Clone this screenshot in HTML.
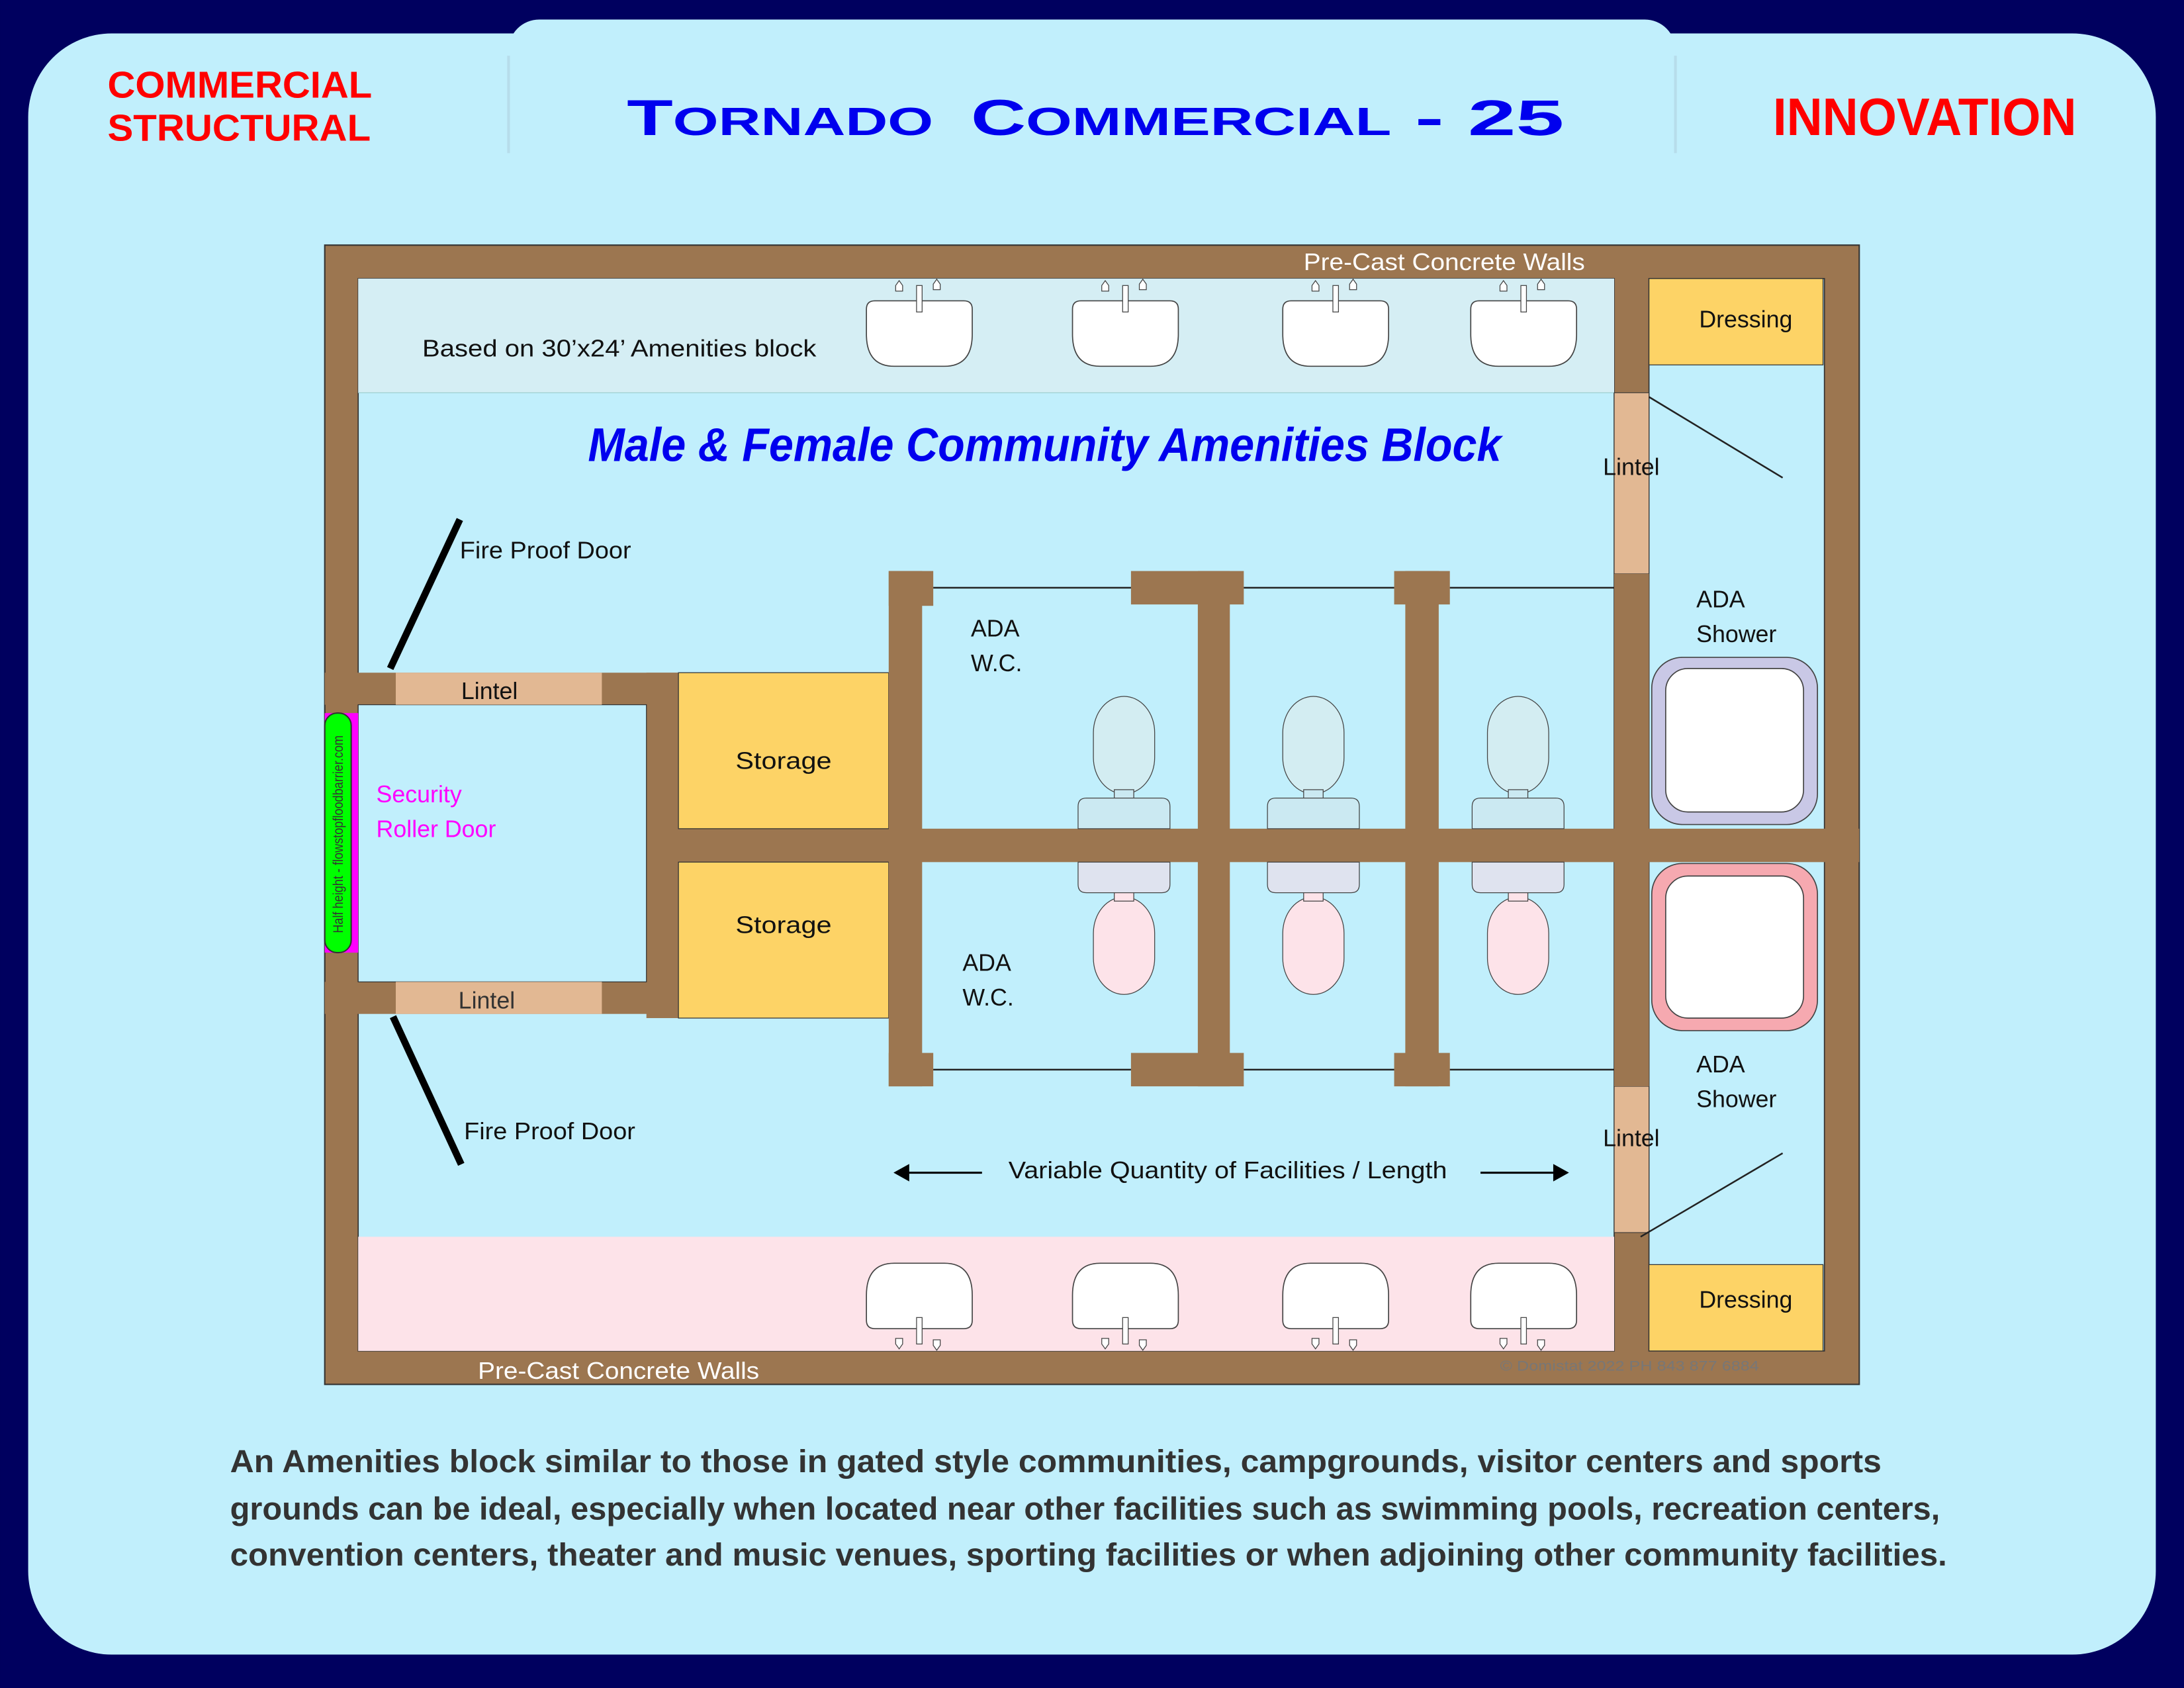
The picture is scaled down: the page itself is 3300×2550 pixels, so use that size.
<!DOCTYPE html>
<html><head><meta charset="utf-8"><style>html,body{margin:0;padding:0;background:#00005f}svg{display:block}</style></head><body>
<svg width="3300" height="2550" viewBox="0 0 1568 1212" xmlns="http://www.w3.org/2000/svg" font-family="'Liberation Sans', 'DejaVu Sans', sans-serif">
<defs>
<g id="sink">
<path d="M-38,222 q0,-6 6,-6 h64 q6,0 6,6 v18 q0,23 -20,23 h-36 q-20,0 -20,-23 z" fill="#fff" stroke="#444" stroke-width="0.8"/>
<rect x="-2" y="205" width="4" height="19" fill="#fff" stroke="#444" stroke-width="0.6"/>
<path d="M-17,209 v-4 l2.5,-3.5 l2.5,3.5 v4 z" fill="#fff" stroke="#444" stroke-width="0.6"/>
<path d="M10,208 v-4 l2.5,-3.5 l2.5,3.5 v4 z" fill="#fff" stroke="#444" stroke-width="0.6"/>
</g>
<g id="toiletU">
<rect x="-22" y="500" width="44" height="70" rx="22" ry="26" fill="#d3edf2" stroke="#444" stroke-width="0.6"/>
<rect x="-7" y="567" width="14" height="7" fill="#cbe9f2" stroke="#444" stroke-width="0.6"/>
<path d="M-33,595 v-16 q0,-6 6,-6 h54 q6,0 6,6 v16 z" fill="#cbe9f2" stroke="#444" stroke-width="0.6"/>
</g>
<g id="toiletL">
<rect x="-22" y="644" width="44" height="70" rx="22" ry="26" fill="#fde3e9" stroke="#444" stroke-width="0.6"/>
<rect x="-7" y="640" width="14" height="7" fill="#fde3e9" stroke="#444" stroke-width="0.6"/>
<path d="M-33,619 v16 q0,6 6,6 h54 q6,0 6,-6 v-16 z" fill="#dfe3ef" stroke="#444" stroke-width="0.6"/>
</g>
</defs>
<rect width="1568" height="1212" fill="#00005f"/>
<rect x="20" y="24" width="1528" height="1164" rx="60" fill="#c1effc"/>
<rect x="365" y="14" width="838" height="120" rx="22" fill="#c1effc"/>
<line x1="365" y1="40" x2="365" y2="110" stroke="#9ab" stroke-width="2" opacity="0.25"/>
<line x1="1203" y1="40" x2="1203" y2="110" stroke="#9ab" stroke-width="2" opacity="0.25"/>
<text x="77" y="70" font-size="27" font-weight="bold" fill="#f00" textLength="190" lengthAdjust="spacingAndGlyphs">COMMERCIAL</text>
<text x="77" y="101" font-size="27" font-weight="bold" fill="#f00" textLength="189" lengthAdjust="spacingAndGlyphs">STRUCTURAL</text>
<text x="1273" y="97" font-size="38" font-weight="bold" fill="#f00" textLength="218" lengthAdjust="spacingAndGlyphs">INNOVATION</text>
<g font-size="36" font-weight="bold" fill="#0000ee">
<text x="450" y="97" textLength="220" lengthAdjust="spacingAndGlyphs">T<tspan font-size="28">ORNADO</tspan></text>
<text x="697" y="97" textLength="302" lengthAdjust="spacingAndGlyphs">C<tspan font-size="28">OMMERCIAL</tspan></text>
<text x="1016" y="97" textLength="107" lengthAdjust="spacingAndGlyphs">-  25</text>
</g>

<!-- building -->
<rect x="233" y="176" width="1102" height="818" fill="#9c7650" stroke="#333" stroke-width="1"/>
<rect x="257" y="200" width="902" height="770" fill="#c1effc" stroke="#333" stroke-width="0.8"/>
<rect x="1184" y="200" width="126" height="770" fill="#c1effc" stroke="#333" stroke-width="0.8"/>
<rect x="257" y="200" width="902" height="82" fill="#d5eef4"/>
<rect x="257" y="888" width="902" height="82" fill="#fde3e9"/>
<line x1="257" y1="282" x2="1159" y2="282" stroke="#9cc" stroke-width="0.5"/>
<rect x="1159" y="282" width="25" height="130" fill="#e2b893" stroke="#333" stroke-width="0.5"/>
<rect x="1159" y="780" width="25" height="105" fill="#e2b893" stroke="#333" stroke-width="0.5"/>
<rect x="1184" y="200" width="125" height="62" fill="#fdd366" stroke="#333" stroke-width="0.6"/>
<rect x="1184" y="908" width="125" height="62" fill="#fdd366" stroke="#333" stroke-width="0.6"/>
<rect x="464" y="595" width="871" height="24" fill="#9c7650"/>
<rect x="233" y="483" width="254" height="23" fill="#9c7650"/>
<rect x="233" y="705" width="254" height="23" fill="#9c7650"/>
<rect x="464" y="483" width="23" height="248" fill="#9c7650"/>
<rect x="257" y="506" width="207" height="199" fill="#c1effc" stroke="#333" stroke-width="0.6"/>
<rect x="284" y="483" width="148" height="23" fill="#e2b893"/>
<rect x="284" y="705" width="148" height="23" fill="#e2b893"/>
<rect x="233" y="512" width="24" height="172" fill="#f0f"/>
<rect x="233" y="512" width="19" height="172" rx="9" fill="#0f0" stroke="#333" stroke-width="1"/>
<text transform="translate(246,670) rotate(-90)" font-size="10" fill="#333" textLength="142" lengthAdjust="spacingAndGlyphs">Half height - flowstopfloodbarrier.com</text>
<rect x="487" y="483" width="151" height="112" fill="#fdd366" stroke="#333" stroke-width="0.6"/>
<rect x="487" y="619" width="151" height="112" fill="#fdd366" stroke="#333" stroke-width="0.6"/>
<rect x="638" y="410" width="24" height="370" fill="#9c7650"/>
<rect x="638" y="410" width="32" height="25" fill="#9c7650"/>
<rect x="638" y="756" width="32" height="24" fill="#9c7650"/>
<rect x="860" y="410" width="23" height="370" fill="#9c7650"/>
<rect x="812" y="410" width="81" height="24" fill="#9c7650"/>
<rect x="812" y="756" width="81" height="24" fill="#9c7650"/>
<rect x="1009" y="410" width="24" height="370" fill="#9c7650"/>
<rect x="1001" y="410" width="40" height="24" fill="#9c7650"/>
<rect x="1001" y="756" width="40" height="24" fill="#9c7650"/>
<rect x="1159" y="412" width="25" height="368" fill="#9c7650"/>
<g stroke="#222" stroke-width="1.2">
<line x1="670" y1="422" x2="812" y2="422"/><line x1="893" y1="422" x2="1001" y2="422"/><line x1="1041" y1="422" x2="1159" y2="422"/>
<line x1="670" y1="768" x2="812" y2="768"/><line x1="893" y1="768" x2="1001" y2="768"/><line x1="1041" y1="768" x2="1159" y2="768"/>
<line x1="1184" y1="285" x2="1280" y2="343"/><line x1="1178" y1="888" x2="1280" y2="828"/>
</g>
<line x1="280" y1="480" x2="330" y2="373" stroke="#000" stroke-width="5"/>
<line x1="282" y1="730" x2="331" y2="836" stroke="#000" stroke-width="5"/>
<use href="#sink" x="660"/><use href="#sink" x="808"/><use href="#sink" x="959"/><use href="#sink" x="1094"/>
<g transform="translate(0,1170) scale(1,-1)"><use href="#sink" x="660"/><use href="#sink" x="808"/><use href="#sink" x="959"/><use href="#sink" x="1094"/></g>
<use href="#toiletU" x="807"/><use href="#toiletU" x="943"/><use href="#toiletU" x="1090"/>
<use href="#toiletL" x="807"/><use href="#toiletL" x="943"/><use href="#toiletL" x="1090"/>
<rect x="1186" y="472" width="119" height="120" rx="22" fill="#c9c8e6" stroke="#444" stroke-width="0.8"/>
<rect x="1196" y="480" width="99" height="103" rx="16" fill="#fff" stroke="#444" stroke-width="0.8"/>
<rect x="1186" y="620" width="119" height="120" rx="22" fill="#f6a9b0" stroke="#444" stroke-width="0.8"/>
<rect x="1196" y="629" width="99" height="102" rx="16" fill="#fff" stroke="#444" stroke-width="0.8"/>
<g font-size="17" fill="#111">
<text x="936" y="194" fill="#fff" textLength="202" lengthAdjust="spacingAndGlyphs">Pre-Cast Concrete Walls</text>
<text x="343" y="990" fill="#fff" textLength="202" lengthAdjust="spacingAndGlyphs">Pre-Cast Concrete Walls</text>
<text x="303" y="256" textLength="283" lengthAdjust="spacingAndGlyphs">Based on 30’x24’ Amenities block</text>
<text x="330" y="401" textLength="123" lengthAdjust="spacingAndGlyphs">Fire Proof Door</text>
<text x="333" y="818" textLength="123" lengthAdjust="spacingAndGlyphs">Fire Proof Door</text>
<text x="331" y="502">Lintel</text>
<text x="329" y="724" fill="#333">Lintel</text>
<text x="1151" y="341">Lintel</text>
<text x="1151" y="823">Lintel</text>
<text x="528" y="552" textLength="69" lengthAdjust="spacingAndGlyphs">Storage</text>
<text x="528" y="670" textLength="69" lengthAdjust="spacingAndGlyphs">Storage</text>
<text x="697" y="457">ADA</text><text x="697" y="482">W.C.</text>
<text x="691" y="697">ADA</text><text x="691" y="722">W.C.</text>
<text x="1218" y="436">ADA</text><text x="1218" y="461">Shower</text>
<text x="1218" y="770">ADA</text><text x="1218" y="795">Shower</text>
<text x="1220" y="235">Dressing</text>
<text x="1220" y="939">Dressing</text>
<text x="270" y="576" fill="#f0f">Security</text>
<text x="270" y="601" fill="#f0f">Roller Door</text>
<text x="724" y="846" textLength="315" lengthAdjust="spacingAndGlyphs">Variable Quantity of Facilities / Length</text>
</g>
<text x="1077" y="984" font-size="10" fill="#777" textLength="186" lengthAdjust="spacingAndGlyphs">© Domistat 2022 PH 843 877 6884</text>
<text x="422" y="331" font-size="34" font-style="italic" font-weight="bold" fill="#0000ee" textLength="656" lengthAdjust="spacingAndGlyphs">Male &amp; Female Community Amenities  Block</text>
<g stroke="#000" stroke-width="1.5" fill="#000">
<line x1="648" y1="842" x2="705" y2="842"/><path d="M643,842 l9,-5 v10 z"/>
<line x1="1063" y1="842" x2="1120" y2="842"/><path d="M1125,842 l-9,-5 v10 z"/>
</g>
<g font-size="23" font-weight="bold" fill="#333">
<text x="165" y="1057" textLength="1186" lengthAdjust="spacingAndGlyphs">An Amenities block similar to those in  gated style communities, campgrounds, visitor centers and sports</text>
<text x="165" y="1091" textLength="1228" lengthAdjust="spacingAndGlyphs">grounds can be ideal, especially when located near other facilities such as swimming pools, recreation centers,</text>
<text x="165" y="1124" textLength="1233" lengthAdjust="spacingAndGlyphs">convention centers, theater and music venues, sporting facilities or when adjoining other community facilities.</text>
</g>
</svg>
</body></html>
